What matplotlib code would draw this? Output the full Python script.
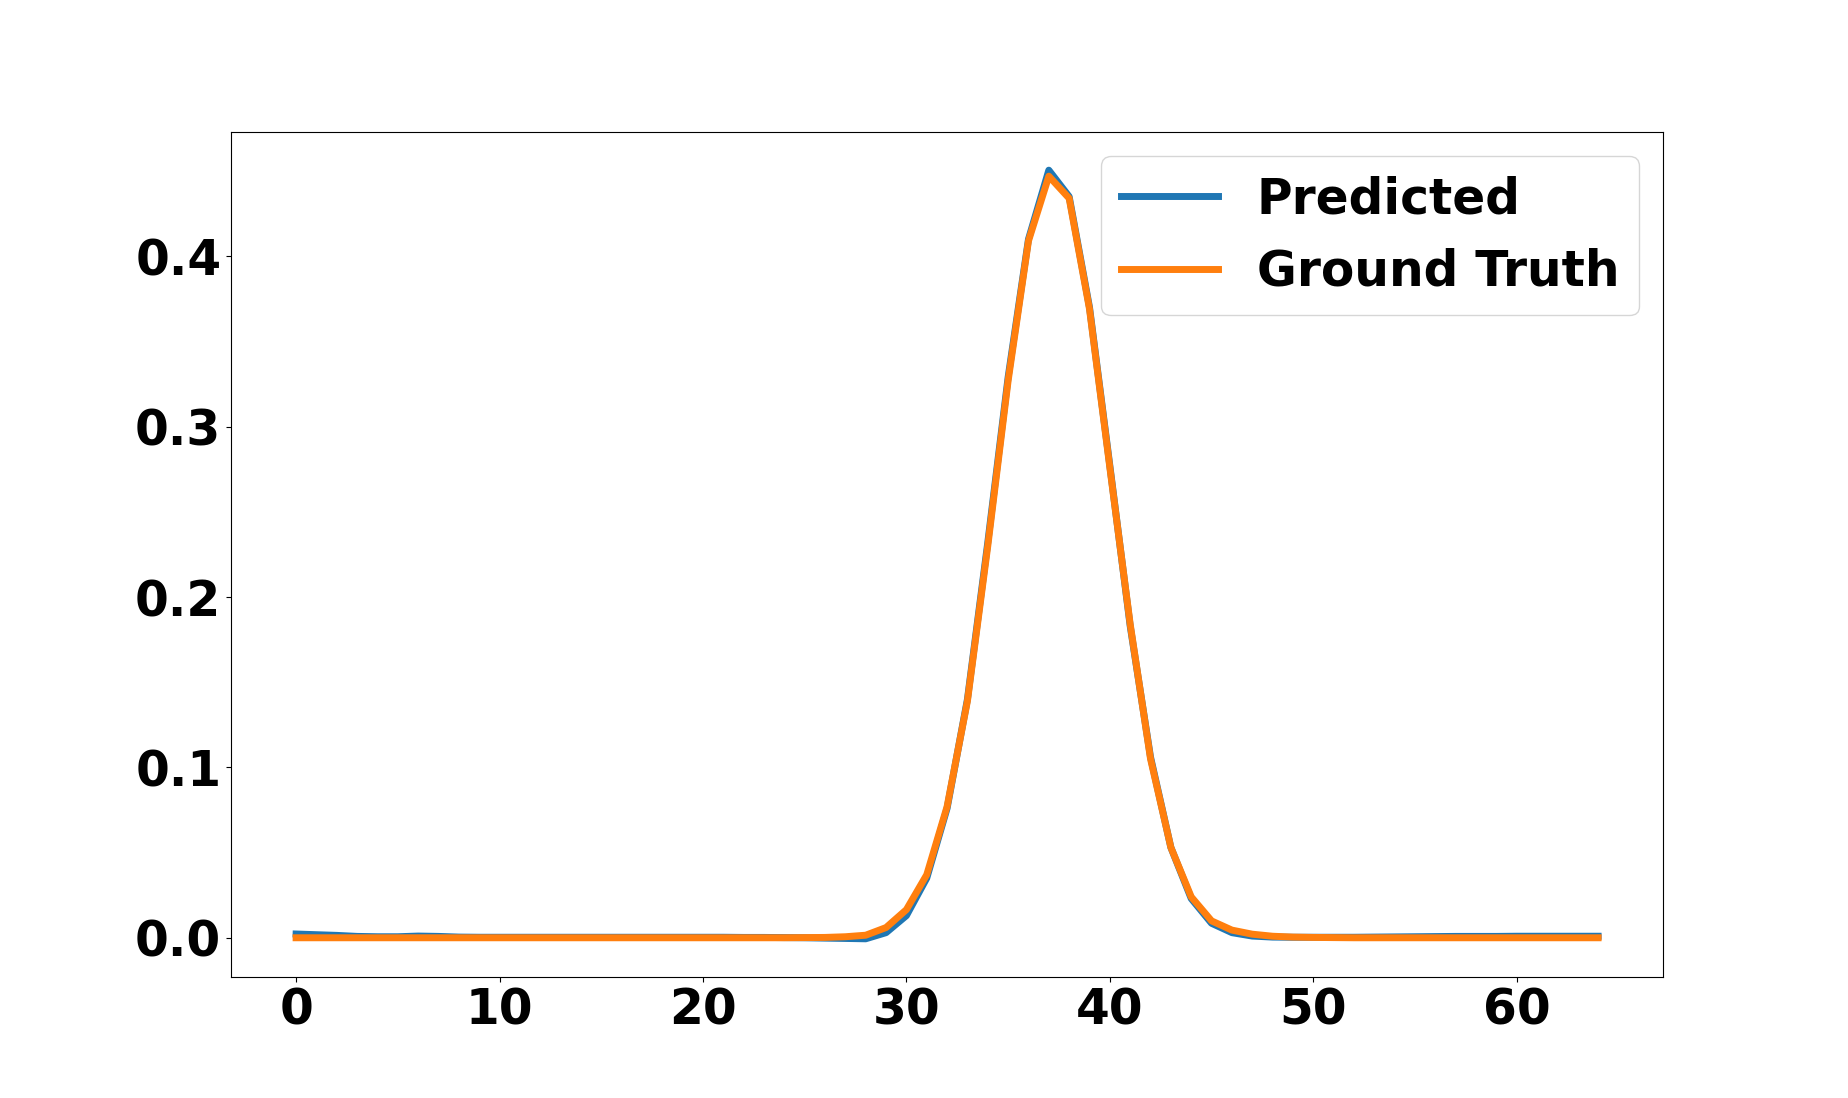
import numpy as np
import matplotlib
matplotlib.use('Agg')
import matplotlib.pyplot as plt

#### Data
x = np.arange(65)

predicted = [0.0022, 0.0018, 0.0014, 0.0008, 0.0006, 0.0006, 0.0010, 0.0008, 0.0004, 0.0003,
             0.0003, 0.0003, 0.0003, 0.0003, 0.0003, 0.0003, 0.0003, 0.0003, 0.0003, 0.0003,
             0.0003, 0.0003, 0.0002, 0.0002, 0.0001, 0.0000, -0.0002, -0.0004, -0.0006, 0.0030,
             0.0130, 0.0350, 0.0760, 0.1400, 0.2320, 0.3290, 0.4100, 0.4505, 0.4350, 0.3700,
             0.2770, 0.1830, 0.1060, 0.0530, 0.0230, 0.0085, 0.0030, 0.0010, 0.0004, 0.0003,
             0.0003, 0.0003, 0.0003, 0.0004, 0.0005, 0.0006, 0.0007, 0.0008, 0.0008, 0.0008,
             0.0009, 0.0009, 0.0009, 0.0009, 0.0009]

ground_truth = [0.0000, 0.0000, 0.0000, 0.0000, 0.0000, 0.0000, 0.0000, 0.0000, 0.0000, 0.0000,
                0.0000, 0.0000, 0.0000, 0.0000, 0.0000, 0.0000, 0.0000, 0.0000, 0.0000, 0.0000,
                0.0000, 0.0000, 0.0000, 0.0000, 0.0000, 0.0001, 0.0002, 0.0006, 0.0015, 0.0060,
                0.0165, 0.0370, 0.0770, 0.1390, 0.2300, 0.3270, 0.4090, 0.4470, 0.4340, 0.3690,
                0.2760, 0.1840, 0.1050, 0.0530, 0.0240, 0.0099, 0.0045, 0.0021, 0.0009, 0.0004,
                0.0002, 0.0001, 0.0000, 0.0000, 0.0000, 0.0000, 0.0000, 0.0000, 0.0000, 0.0000,
                0.0000, 0.0000, 0.0000, 0.0000, 0.0000]

#### Plot
plt.figure(figsize=[18.48, 10.98], dpi=100)
plt.plot(x, predicted, color='tab:blue', linewidth=5, label='Predicted')
plt.plot(x, ground_truth, color='tab:orange', linewidth=5, label='Ground Truth')
plt.xticks(fontsize=35, fontweight='bold')
plt.yticks(fontsize=35, fontweight='bold')
plt.legend(loc='upper right', prop={'size': 35, 'weight': 'bold'})
plt.savefig('out.png')
